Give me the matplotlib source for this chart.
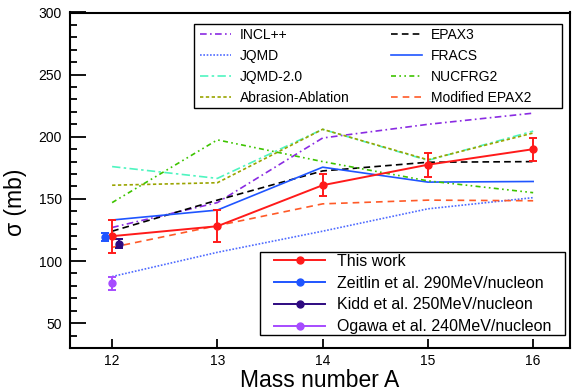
import numpy as np
import matplotlib
matplotlib.use("Agg")
import matplotlib.pyplot as plt
from matplotlib.lines import Line2D
from matplotlib.patches import Rectangle

plt.rcParams['font.family'] = ['Liberation Sans', 'DejaVu Sans']

# ---- datos ----
mass = [12, 13, 14, 15, 16]

this_work = [120, 128, 161, 177.5, 190]
this_work_err = [13.4, 13, 9, 9.7, 9.2]

incl = [127, 147, 199, 210, 219]
jqmd = [87.5, 107, 124, 142, 151]
jqmd2 = [176, 166.5, 206, 181, 204.5]
abrasion = [161, 163, 206, 181.5, 203]
epax3 = [124, 149, 172.5, 179.5, 180]
fracs = [133, 141, 175.5, 163.5, 164]
nucfrg2 = [147, 197.5, 180, 164.5, 155]
mod_epax2 = [111, 128.5, 146, 149, 148.5]

# puntos experimentales de otros autores (A = 12)
zeitlin_x, zeitlin_y, zeitlin_err = 11.93, 119.5, 3
kidd_x, kidd_y, kidd_err = 12.07, 114, 3.6
ogawa_x, ogawa_y, ogawa_err = 12.0, 82, 5.4

fig = plt.figure(figsize=(5.72, 3.92), dpi=100)
ax = fig.add_axes([70/572, 44/392, 500/572, 335.5/392])

lw = 1.2
l_incl, = ax.plot(mass, incl, color='#8A2BE2', lw=lw, ls=(0, (4, 2, 1, 2)), label='INCL++')
l_jqmd, = ax.plot(mass, jqmd, color='#4F6BFF', lw=lw, ls=(0, (1, 1)), label='JQMD')
l_jqmd2, = ax.plot(mass, jqmd2, color='#4FF5C0', lw=lw, ls=(0, (5, 2, 1.5, 2)), label='JQMD-2.0')
l_abr, = ax.plot(mass, abrasion, color='#9AA400', lw=lw, ls=(0, (2, 1.5)), label='Abrasion-Ablation')
l_epax3, = ax.plot(mass, epax3, color='black', lw=lw, ls=(0, (4, 2.5)), label='EPAX3')
l_fracs, = ax.plot(mass, fracs, color='#1F55FF', lw=lw, label='FRACS')
l_nuc, = ax.plot(mass, nucfrg2, color='#3DC400', lw=lw, ls=(0, (3, 2, 1, 2, 1, 2)), label='NUCFRG2')
l_mod, = ax.plot(mass, mod_epax2, color='#FF5A28', lw=lw, ls=(0, (4, 3)), label='Modified EPAX2')

ax.errorbar(mass, this_work, yerr=this_work_err, color='#FF1A1A', lw=1.4, marker='o', ms=5,
            capsize=3, capthick=1.4, zorder=5)
ax.errorbar([zeitlin_x], [zeitlin_y], yerr=[zeitlin_err], color='#1F55FF', marker='o', ms=5,
            capsize=3, capthick=1.4, lw=1.4, zorder=5)
ax.errorbar([kidd_x], [kidd_y], yerr=[kidd_err], color='#2E0A80', marker='o', ms=5,
            capsize=3, capthick=1.4, lw=1.4, zorder=5)
ax.errorbar([ogawa_x], [ogawa_y], yerr=[ogawa_err], color='#A64BFF', marker='o', ms=5,
            capsize=3, capthick=1.4, lw=1.4, zorder=5)

ax.set_xlim(11.6, 16.35)
ax.set_ylim(30, 300)
ax.set_xticks(mass)
ax.set_yticks([50, 100, 150, 200, 250, 300])
ax.set_yticks(np.arange(40, 300, 10), minor=True)
ax.tick_params(axis='y', which='major', direction='in', length=11.5, width=1.3, labelsize=10, pad=6)
ax.tick_params(axis='y', which='minor', direction='in', length=5, width=1.3)
ax.tick_params(axis='x', which='major', direction='in', length=6.5, width=1.3, labelsize=10, pad=4)
for s in ax.spines.values():
    s.set_linewidth(1.5)

ax.set_xlabel('Mass number A', fontsize=16.5, labelpad=1)
ax.set_ylabel('σ (mb)', fontsize=16.5)
ax.yaxis.set_label_coords(-0.085, 0.435)

# marcos de las leyendas (mas anchos que el contenido, como en la figura original)
ax.add_patch(Rectangle((0.248, 0.7153), 0.736, 0.2504, transform=ax.transAxes,
                       facecolor='white', edgecolor='black', lw=1.0, zorder=4.5))
ax.add_patch(Rectangle((0.38, 0.0387), 0.61, 0.2474, transform=ax.transAxes,
                       facecolor='white', edgecolor='black', lw=1.0, zorder=4.5))

leg1 = ax.legend(handles=[l_incl, l_jqmd, l_jqmd2, l_abr, l_epax3, l_fracs, l_nuc, l_mod],
                 loc='upper left', bbox_to_anchor=(0.252, 0.966),
                 ncol=2, fontsize=10, handlelength=2.25, frameon=False,
                 borderpad=0.3, labelspacing=0.5, handletextpad=0.63,
                 columnspacing=2.95, borderaxespad=0)
ax.add_artist(leg1)

handles2 = [
    Line2D([], [], color='#FF1A1A', marker='o', ms=5, lw=1.4),
    Line2D([], [], color='#1F55FF', marker='o', ms=5, lw=1.4),
    Line2D([], [], color='#2E0A80', marker='o', ms=5, lw=1.4),
    Line2D([], [], color='#A64BFF', marker='o', ms=5, lw=1.4),
]
labels2 = ['This work', 'Zeitlin et al. 290MeV/nucleon', 'Kidd et al. 250MeV/nucleon',
           'Ogawa et al. 240MeV/nucleon']
leg2 = ax.legend(handles2, labels2, loc='upper left', bbox_to_anchor=(0.40, 0.292),
                 fontsize=11.5, handlelength=3.2, numpoints=1, frameon=False,
                 borderpad=0.25, labelspacing=0.42, handletextpad=0.75,
                 borderaxespad=0)

fig.savefig('out.png', dpi=100)
